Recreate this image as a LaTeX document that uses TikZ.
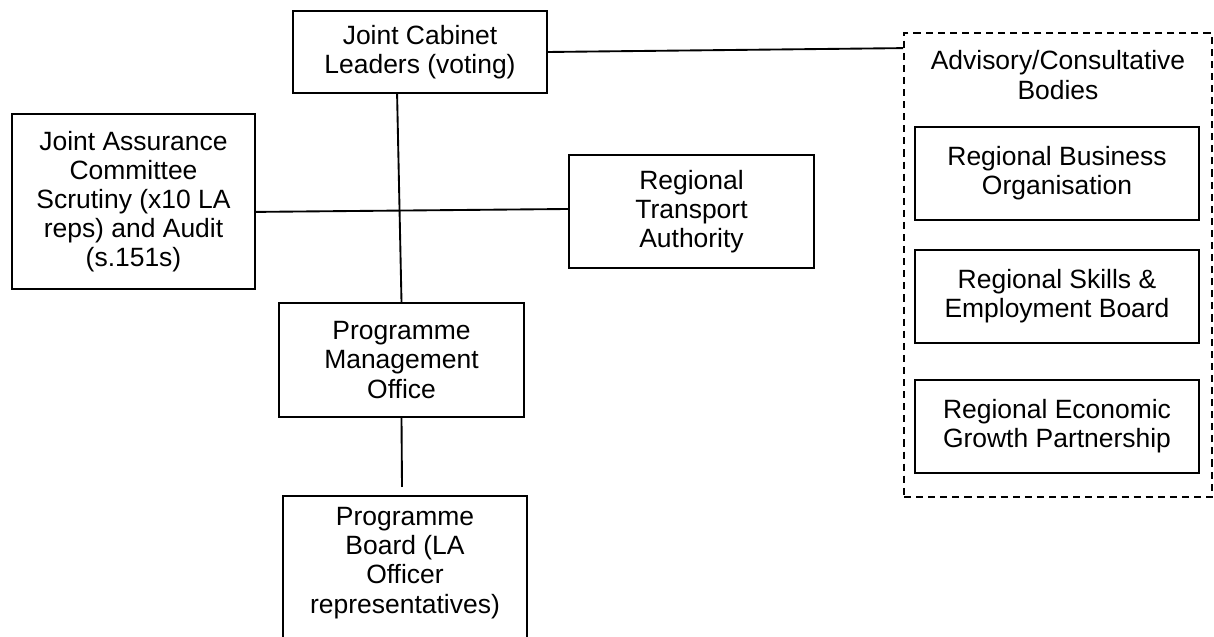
\documentclass[tikz,border=0pt]{standalone}
\usepackage{fontspec}
\setmainfont{Liberation Sans}
\usepackage{tikz}

\begin{document}
\begin{tikzpicture}[x=0.48pt, y=-0.48pt,
  box/.style={draw, line width=0.9pt, align=center, inner sep=0pt, font=\fontsize{12.7}{14}\selectfont},
  link/.style={line width=0.9pt}]
\useasboundingbox (0,0) rectangle (1214,637);

\node (jc) at (420,52) [box, minimum width=121.9pt, minimum height=39.4pt]{Joint Cabinet\\Leaders (voting)};
\node (jac) at (133.5,201.5) [box, minimum width=116.6pt, minimum height=84pt]{Joint Assurance\\Committee\\Scrutiny (x10 LA\\reps) and Audit\\(s.151s)};
\node (rta) at (691.5,211.5) [box, minimum width=117.6pt, minimum height=54.2pt]{Regional\\Transport\\Authority};
\node (pmo) at (401.5,360) [box, minimum width=117.6pt, minimum height=54.7pt]{Programme\\Management\\Office};
\node (pb) at (405,578) [box, minimum width=117.1pt, minimum height=78.7pt]{};
\node (pbtext) at (405,563) [align=center, inner sep=0pt, font=\fontsize{12.7}{14}\selectfont]{Programme\\Board (LA\\Officer\\representatives)};

\node (adv) at (1058,265) [box, dash pattern=on 3.4pt off 2.4pt, minimum width=147.8pt, minimum height=222.7pt]{};
\node (advtitle) at (1058,75) [align=center, inner sep=0pt, font=\fontsize{12.7}{14}\selectfont]{Advisory/Consultative\\Bodies};
\node (rbo) at (1057,173.5) [box, minimum width=136.3pt, minimum height=44.6pt]{Regional Business\\Organisation};
\node (rseb) at (1057,296.5) [box, minimum width=136.3pt, minimum height=44.6pt]{Regional Skills \&\\Employment Board};
\node (regp) at (1057,426.5) [box, minimum width=136.3pt, minimum height=44.6pt]{Regional Economic\\Growth Partnership};

\coordinate (pbend) at (402,487);

\draw[link] ([xshift=-11pt]jc.south) -- (pmo.north);
\draw[link] ([yshift=-5pt]jac.east) -- ([yshift=1.2pt]rta.west);
\draw[link] (jc.east) -- ([yshift=-7.7pt]adv.north west);
\draw[link] (pmo.south) -- (pbend);
\end{tikzpicture}
\end{document}
